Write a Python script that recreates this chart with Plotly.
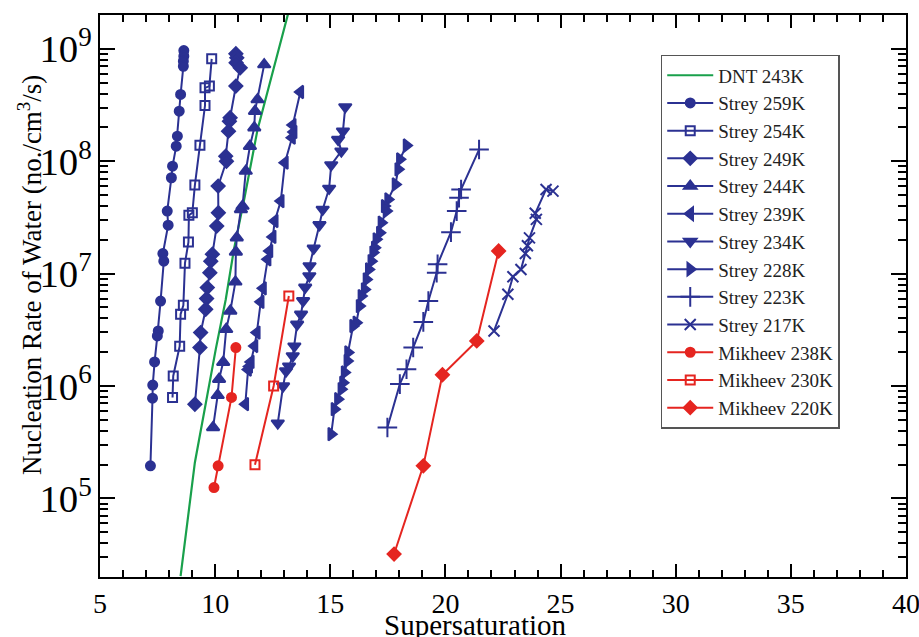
import plotly.graph_objects as go

# ---------------- data ----------------
dnt_S = [8.50, 9.12, 10.03, 10.46, 10.82, 11.26, 11.84, 13.18, 13.30]
dnt_J = [2.04e4, 2.09e5, 2.14e6, 5.89e6, 1.66e7, 4.57e7, 1.91e8, 2.0e9, 2.6e9]

s259_S = [8.64, 8.64, 8.62, 8.62, 8.50, 8.44, 8.36, 8.31, 8.15, 8.10, 7.92, 7.96, 7.73, 7.77, 7.63, 7.53, 7.49, 7.37, 7.29, 7.28, 7.19]
s259_J = [9.66e8, 8.59e8, 7.76e8, 7.00e8, 3.93e8, 2.79e8, 1.67e8, 1.36e8, 9.04e7, 7.13e7, 3.60e7, 2.70e7, 1.51e7, 1.29e7, 5.70e6, 3.09e6, 2.79e6, 1.64e6, 1.02e6, 7.80e5, 1.95e5]

s254_S = [9.85, 9.75, 9.56, 9.56, 9.34, 9.12, 9.01, 8.86, 8.84, 8.69, 8.62, 8.50, 8.46, 8.18, 8.15]
s254_J = [8.15e8, 4.66e8, 4.50e8, 3.13e8, 1.39e8, 6.14e7, 3.48e7, 3.30e7, 1.91e7, 1.24e7, 5.22e6, 4.35e6, 2.26e6, 1.23e6, 7.91e5]

s249_S = [10.90, 10.94, 10.91, 11.09, 10.90, 10.65, 10.62, 10.58, 10.46, 10.49, 10.13, 10.14, 10.07, 9.88, 9.81, 9.77, 9.66, 9.63, 9.59, 9.37, 9.34, 9.12]
s249_J = [9.04e8, 8.32e8, 7.52e8, 6.78e8, 4.66e8, 2.44e8, 2.27e8, 1.85e8, 1.11e8, 1.00e8, 6.01e7, 3.48e7, 2.65e7, 1.49e7, 1.29e7, 1.02e7, 7.52e6, 6.00e6, 4.82e6, 2.99e6, 2.20e6, 6.89e5]

s244_S = [12.13, 11.84, 11.73, 11.70, 11.51, 11.33, 11.19, 11.12, 10.94, 10.90, 10.88, 10.66, 10.48, 10.35, 10.17, 10.11, 9.91]
s244_J = [7.24e8, 3.54e8, 2.79e8, 1.99e8, 1.36e8, 8.17e7, 3.99e7, 3.73e7, 2.09e7, 1.56e7, 8.45e6, 4.66e6, 3.20e6, 1.63e6, 1.15e6, 8.28e5, 4.28e5]

s239_S = [13.70, 13.37, 13.41, 13.34, 13.03, 12.85, 12.59, 12.50, 12.36, 12.28, 12.08, 11.98, 11.81, 11.71, 11.55, 11.48, 11.43, 11.31]
s239_J = [4.13e8, 2.10e8, 1.82e8, 1.62e8, 9.70e7, 4.42e7, 2.94e7, 2.12e7, 1.59e7, 1.34e7, 7.40e6, 5.61e6, 2.99e6, 2.27e6, 1.64e6, 1.49e6, 1.40e6, 6.89e5]

s234_S = [15.65, 15.55, 15.34, 15.48, 15.04, 14.95, 14.67, 14.53, 14.28, 14.10, 14.09, 13.91, 13.82, 13.73, 13.56, 13.44, 13.37, 13.21, 13.08, 12.95, 12.72]
s234_J = [3.04e8, 1.85e8, 1.56e8, 1.23e8, 9.27e7, 5.73e7, 3.73e7, 2.72e7, 1.68e7, 1.17e7, 9.53e6, 7.55e6, 5.73e6, 4.35e6, 3.54e6, 2.26e6, 1.85e6, 1.50e6, 1.36e6, 1.00e6, 4.67e5]

s228_S = [18.31, 18.02, 17.95, 17.83, 17.51, 17.36, 17.44, 17.22, 17.15, 17.00, 16.93, 16.86, 16.78, 16.67, 16.57, 16.49, 16.35, 16.27, 16.13, 15.99, 15.77, 15.74, 15.62, 15.55, 15.48, 15.33, 15.18, 15.04]
s228_J = [1.38e8, 1.04e8, 8.47e7, 6.22e7, 4.57e7, 3.99e7, 3.60e7, 2.84e7, 2.31e7, 2.02e7, 1.70e7, 1.54e7, 1.29e7, 1.09e7, 8.89e6, 7.24e6, 6.32e6, 5.15e6, 3.66e6, 3.42e6, 1.99e6, 1.67e6, 1.32e6, 1.07e6, 9.38e5, 7.64e5, 6.22e5, 3.73e5]

s223_S = [21.46, 20.68, 20.59, 20.49, 20.24, 19.66, 19.62, 19.26, 19.04, 18.60, 18.31, 18.02, 17.48]
s223_J = [1.27e8, 5.61e7, 4.74e7, 3.60e7, 2.34e7, 1.21e7, 1.02e7, 5.70e6, 3.72e6, 2.20e6, 1.41e6, 1.04e6, 4.28e5]

s217_S = [22.11, 22.71, 22.93, 23.28, 23.47, 23.56, 23.65, 23.95, 23.90, 24.37, 24.67]
s217_J = [3.09e6, 6.55e6, 9.38e6, 1.09e7, 1.51e7, 1.77e7, 2.08e7, 3.04e7, 3.44e7, 5.61e7, 5.42e7]

m238_S = [9.95, 10.13, 10.71, 10.90]
m238_J = [1.25e5, 1.95e5, 7.91e5, 2.20e6]

m230_S = [11.73, 12.54, 13.20]
m230_J = [1.99e5, 1.00e6, 6.32e6]

m220_S = [17.77, 19.04, 19.87, 21.36, 22.31]
m220_J = [3.20e4, 1.95e5, 1.26e6, 2.52e6, 1.59e7]

x_ticks = [5, 10, 15, 20, 25, 30, 35, 40]

# ---------------- styling ----------------
BLUE = "#2b3192"
RED = "#e52520"
GREEN = "#19a04b"
FONT = "'Liberation Serif', 'Times New Roman', serif"

fig = go.Figure()

fig.add_trace(go.Scatter(x=dnt_S, y=dnt_J, mode="lines", name="DNT 243K",
                         line=dict(color=GREEN, width=2.2)))

strey = [
    ("Strey 259K", s259_S, s259_J, "circle", 9),
    ("Strey 254K", s254_S, s254_J, "square-open", 9),
    ("Strey 249K", s249_S, s249_J, "diamond", 10),
    ("Strey 244K", s244_S, s244_J, "triangle-up", 11),
    ("Strey 239K", s239_S, s239_J, "triangle-left", 11),
    ("Strey 234K", s234_S, s234_J, "triangle-down", 11),
    ("Strey 228K", s228_S, s228_J, "triangle-right", 11),
    ("Strey 223K", s223_S, s223_J, "cross-thin", 14),
    ("Strey 217K", s217_S, s217_J, "x-thin", 11),
]
for name, xs, ys, sym, sz in strey:
    fig.add_trace(go.Scatter(
        x=xs, y=ys, mode="lines+markers", name=name,
        line=dict(color=BLUE, width=2),
        marker=dict(symbol=sym, size=sz, color=BLUE,
                    line=dict(color=BLUE, width=2))))

mik = [
    ("Mikheev 238K", m238_S, m238_J, "circle", 9),
    ("Mikheev 230K", m230_S, m230_J, "square-open", 9),
    ("Mikheev 220K", m220_S, m220_J, "diamond", 10),
]
for name, xs, ys, sym, sz in mik:
    fig.add_trace(go.Scatter(
        x=xs, y=ys, mode="lines+markers", name=name,
        line=dict(color=RED, width=2),
        marker=dict(symbol=sym, size=sz, color=RED,
                    line=dict(color=RED, width=2))))

fig.update_layout(
    width=919, height=637,
    margin=dict(l=100, r=13, t=15, b=60, autoexpand=False),
    paper_bgcolor="white", plot_bgcolor="white",
    font=dict(family=FONT, color="black", size=24),
    showlegend=True,
    legend=dict(x=0.6957, y=0.929, xanchor="left", yanchor="top",
                bgcolor="white", bordercolor="#555555", borderwidth=1.5,
                font=dict(family=FONT, size=19, color="#222222"),
                itemwidth=46),
    annotations=[
        dict(text="Supersaturation", xref="paper", yref="paper",
             x=0.4665, y=-0.085, xanchor="center", yanchor="middle",
             showarrow=False, font=dict(family=FONT, size=29, color="black")),
        dict(text="Nucleation Rate of Water (no./cm<sup>3</sup>/s)",
             xref="paper", yref="paper", x=-0.087, y=0.537,
             xanchor="center", yanchor="middle", textangle=-90,
             showarrow=False, font=dict(family=FONT, size=27, color="black")),
    ],
)

fig.update_xaxes(
    range=[5, 40], tickmode="array", tickvals=x_ticks, automargin=False,
    ticklabeloverflow="allow",
    ticks="inside", ticklen=13, tickwidth=1.5, tickcolor="black",
    showline=True, linecolor="black", linewidth=2, mirror="allticks",
    showgrid=False, zeroline=False,
    tickfont=dict(family=FONT, size=28),
    minor=dict(dtick=1, tick0=5, ticks="inside", ticklen=7, tickwidth=1.5,
               tickcolor="black", showgrid=False),
)

fig.update_yaxes(
    type="log", range=[4.30103, 9.30103], dtick=1, exponentformat="power",
    automargin=False, ticklabeloverflow="allow",
    ticks="inside", ticklen=15, tickwidth=1.5, tickcolor="black",
    showline=True, linecolor="black", linewidth=2, mirror="allticks",
    showgrid=False, zeroline=False,
    tickfont=dict(family=FONT, size=31),
    minor=dict(ticks="inside", ticklen=8, tickwidth=1.5, tickcolor="black",
               showgrid=False),
)

# remove the browser's default 8px body margin so the figure fills the window
fig.write_html("out.html", config={"displayModeBar": False},
               post_script="document.body.style.margin='0';document.body.style.overflow='hidden';")
